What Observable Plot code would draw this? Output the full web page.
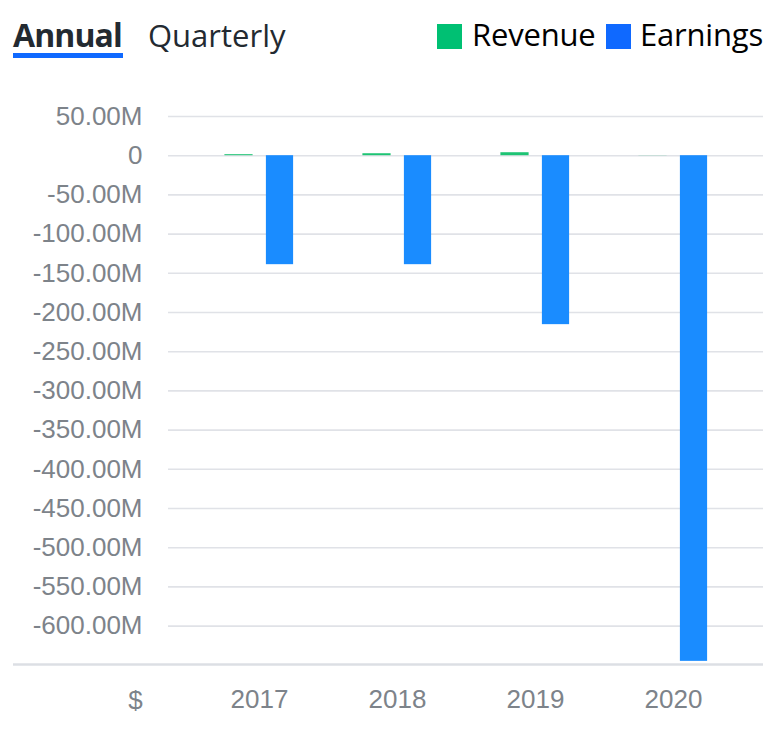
<!DOCTYPE html>
<html>
<head>
<meta charset="utf-8">
<script src="https://cdn.jsdelivr.net/npm/d3@7"></script>
<script src="https://cdn.jsdelivr.net/npm/@observablehq/plot@0.6"></script>
<style>
  html, body { margin: 0; padding: 0; background: #fff; }
  #wrap { position: relative; width: 772px; height: 744px; overflow: hidden; }
  #chart { position: absolute; left: 0; top: 0; }
  .hdr { position: absolute; font-family: "Open Sans", sans-serif; line-height: 1; white-space: nowrap; }
  #annual { left: 13px; top: 19px; font-size: 32px; font-weight: 700; color: #232a31; letter-spacing: -0.9px; }
  #underline { position: absolute; left: 13px; top: 53px; width: 110px; height: 5px; background: #0f69ff; }
  #quarterly { left: 148px; top: 20px; font-size: 31px; font-weight: 400; color: #232a31; }
  .sw { position: absolute; top: 24px; width: 25px; height: 25px; }
  .lg { position: absolute; top: 19px; font-family: "Open Sans", sans-serif; font-size: 31px; line-height: 1; color: #000; letter-spacing: -0.2px; }
</style>
</head>
<body>
<div id="wrap">
  <div id="chart"></div>
  <div class="hdr" id="annual">Annual</div>
  <div id="underline"></div>
  <div class="hdr" id="quarterly">Quarterly</div>
  <div class="sw" style="left:437px;background:#00c073"></div>
  <div class="lg" style="left:472px">Revenue</div>
  <div class="sw" style="left:606px;background:#0f69ff"></div>
  <div class="lg" style="left:640px">Earnings</div>
</div>
<script>
const years = ["2017", "2018", "2019", "2020"];
const revenue = [1.3e6, 2.5e6, 3.8e6, 0.15e6];
const earnings = [-139e6, -139e6, -215.5e6, -645e6];
const yTicks = [50e6, 0, -50e6, -100e6, -150e6, -200e6, -250e6, -300e6, -350e6, -400e6, -450e6, -500e6, -550e6, -600e6];
const yMin = -649e6;

const revData = years.map((year, i) => ({year, value: revenue[i]}));
const earnData = years.map((year, i) => ({year, value: earnings[i]}));

const fmt = v => v === 0 ? "0" : (v / 1e6).toFixed(2) + "M";

const chart = Plot.plot({
  width: 772,
  height: 744,
  marginTop: 116,
  marginBottom: 80,
  marginLeft: 168,
  marginRight: 9,
  style: {fontFamily: "Liberation Sans, Arial, sans-serif", fontSize: "26px", color: "#7d838a", background: "transparent"},
  x: {domain: years, range: [188, 743], padding: 0, tickSize: 0, tickPadding: 25, label: null},
  y: {domain: [yMin, 50e6], ticks: yTicks, tickFormat: fmt, tickSize: 0, tickPadding: 26, label: null},
  marks: [
    Plot.ruleY(yTicks, {stroke: "#e0e2e7", strokeWidth: 1.6}),
    Plot.ruleY([yMin], {stroke: "#dcdfe4", strokeWidth: 2.5, insetLeft: -155}),
    Plot.barY(revData, {x: "year", y: "value", fill: "#1ec474", insetLeft: 54.9, insetRight: 54.9, dx: -20.5}),
    Plot.barY(earnData, {x: "year", y: "value", fill: "#1a8cff", insetLeft: 55.4, insetRight: 55.4, dx: 20.5}),
    Plot.text(["$"], {frameAnchor: "bottom-left", dx: -33, dy: 36, lineAnchor: "middle", textAnchor: "middle", fill: "#7d838a", fontSize: 26})
  ]
});
document.getElementById("chart").appendChild(chart);
</script>
</body>
</html>
